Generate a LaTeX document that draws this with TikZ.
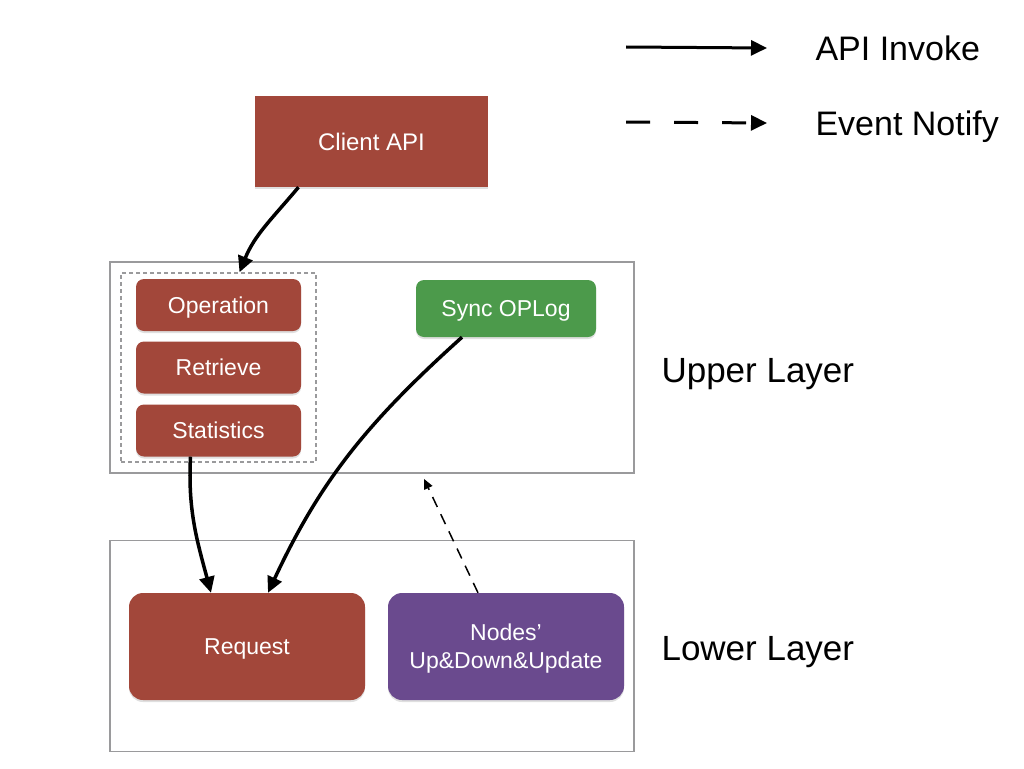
\documentclass[tikz,border=0pt]{standalone}
\usepackage{fontspec}
\setmainfont{Liberation Sans}
\usetikzlibrary{shapes,arrows.meta,shadows}
\definecolor{brick}{HTML}{A2473A}
\definecolor{leaf}{HTML}{4C9A4B}
\definecolor{plum}{HTML}{6A4A8E}
\definecolor{frame}{HTML}{9A9A9C}

\begin{document}
\begin{tikzpicture}[x=1pt,y=-1pt,
  box/.style={shape=rectangle,fill=#1,text=white,align=center,inner sep=0pt,text depth=0pt,font=\fontsize{23}{28}\selectfont,
    drop shadow={opacity=0.25,shadow xshift=0pt,shadow yshift=-2pt}},
  layer/.style={shape=rectangle,draw=frame,line width=1.8pt,inner sep=0pt,minimum width=524pt,minimum height=211pt},
  label/.style={align=left,anchor=west,text depth=0pt,font=\fontsize{34}{40}\selectfont},
  invoke/.style={-{Triangle[length=16pt,width=15pt]},draw=black,line width=3.5pt},
  notify/.style={-{Triangle[length=10pt,width=9pt]},draw=black,line width=1.5pt,dash pattern=on 11pt off 8pt}]
\useasboundingbox (0,0) rectangle (1024,768);
\node[layer] (1) at (372,367.5) {};
\node[layer] (7) at (372,646) {};
\node[shape=rectangle,draw=frame,dash pattern=on 4pt off 3pt,line width=1.4pt,inner sep=0pt,minimum width=195pt,minimum height=189pt] (2) at (218.5,367.5) {};
\node[box=brick,minimum width=233pt,minimum height=91pt,font=\fontsize{24}{28}\selectfont] (0) at (371.5,141.5) {Client API};
\node[box=brick,rounded corners=8pt,minimum width=165pt,minimum height=52pt] (3) at (218.5,305) {Operation};
\node[box=brick,rounded corners=8pt,minimum width=165pt,minimum height=52pt] (4) at (218.5,367.5) {Retrieve};
\node[box=brick,rounded corners=8pt,minimum width=165pt,minimum height=52pt] (5) at (218.5,430.5) {Statistics};
\node[box=leaf,rounded corners=8pt,minimum width=180pt,minimum height=57pt] (6) at (506,308.5) {Sync OPLog};
\node[box=brick,rounded corners=14pt,minimum width=236pt,minimum height=107pt] (8) at (247,646.5) {Request};
\node[box=plum,rounded corners=14pt,minimum width=236pt,minimum height=107pt] (9) at (506,646.5) {Nodes'\\Up\&Down\&Update};
\node[label,font=\fontsize{35}{40}\selectfont] (10) at (658,370) {Upper Layer};
\node[label,font=\fontsize{35}{40}\selectfont] (11) at (658,648) {Lower Layer};
\node[label] (12) at (812,48) {API Invoke};
\node[label] (13) at (812,123) {Event Notify};
\coordinate (14) at (626,47);
\coordinate (15) at (626,122);
\coordinate (16) at ([xshift=52pt,yshift=-5pt]1.south);

\path ([xshift=-73pt]0.south) edge[invoke,out=-130,in=68] ([xshift=21pt]2.north);
\path ([xshift=-28pt]5.south) edge[invoke,out=-93,in=105] ([xshift=-36pt]8.north);
\path ([xshift=-44pt]6.south) edge[invoke,out=-138,in=65] ([xshift=21pt]8.north);
\path ([xshift=-28pt]9.north) edge[notify] (16);
\path (14) edge[invoke,line width=3pt] ([xshift=-45pt]12.west);
\path (15) edge[invoke,line width=3pt,dash pattern=on 24pt off 24pt] ([xshift=-45pt]13.west);
\end{tikzpicture}
\end{document}
